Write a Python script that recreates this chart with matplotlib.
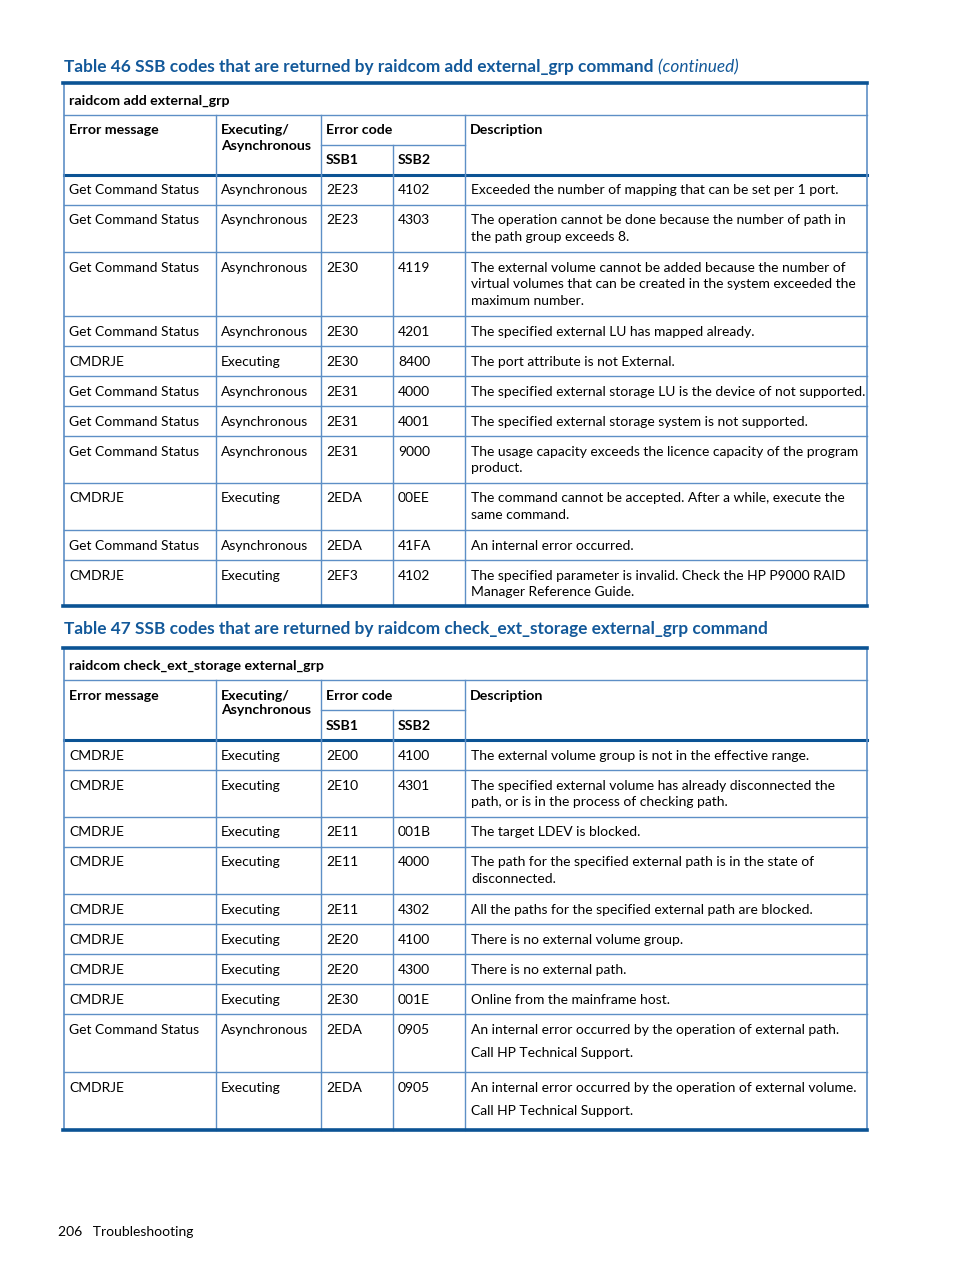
import matplotlib
matplotlib.use("Agg")
import matplotlib.pyplot as plt

plt.rcParams['font.family'] = ['Lato', 'DejaVu Sans']

# ---- data ----
t46_title = "Table 46 SSB codes that are returned by raidcom add external_grp command"
t46_cmd = "raidcom add external_grp"
t46_rows = [
    ["Get Command Status", "Asynchronous", "2E23", "4102",
     ["Exceeded the number of mapping that can be set per 1 port."]],
    ["Get Command Status", "Asynchronous", "2E23", "4303",
     ["The operation cannot be done because the number of path in",
      "the path group exceeds 8."]],
    ["Get Command Status", "Asynchronous", "2E30", "4119",
     ["The external volume cannot be added because the number of",
      "virtual volumes that can be created in the system exceeded the",
      "maximum number."]],
    ["Get Command Status", "Asynchronous", "2E30", "4201",
     ["The specified external LU has mapped already."]],
    ["CMDRJE", "Executing", "2E30", "8400",
     ["The port attribute is not External."]],
    ["Get Command Status", "Asynchronous", "2E31", "4000",
     ["The specified external storage LU is the device of not supported."]],
    ["Get Command Status", "Asynchronous", "2E31", "4001",
     ["The specified external storage system is not supported."]],
    ["Get Command Status", "Asynchronous", "2E31", "9000",
     ["The usage capacity exceeds the licence capacity of the program",
      "product."]],
    ["CMDRJE", "Executing", "2EDA", "00EE",
     ["The command cannot be accepted. After a while, execute the",
      "same command."]],
    ["Get Command Status", "Asynchronous", "2EDA", "41FA",
     ["An internal error occurred."]],
    ["CMDRJE", "Executing", "2EF3", "4102",
     ["The specified parameter is invalid. Check the HP P9000 RAID",
      "Manager Reference Guide."]],
]

t47_title = "Table 47 SSB codes that are returned by raidcom check_ext_storage external_grp command"
t47_cmd = "raidcom check_ext_storage external_grp"
t47_rows = [
    ["CMDRJE", "Executing", "2E00", "4100",
     ["The external volume group is not in the effective range."]],
    ["CMDRJE", "Executing", "2E10", "4301",
     ["The specified external volume has already disconnected the",
      "path, or is in the process of checking path."]],
    ["CMDRJE", "Executing", "2E11", "001B",
     ["The target LDEV is blocked."]],
    ["CMDRJE", "Executing", "2E11", "4000",
     ["The path for the specified external path is in the state of",
      "disconnected."]],
    ["CMDRJE", "Executing", "2E11", "4302",
     ["All the paths for the specified external path are blocked."]],
    ["CMDRJE", "Executing", "2E20", "4100",
     ["There is no external volume group."]],
    ["CMDRJE", "Executing", "2E20", "4300",
     ["There is no external path."]],
    ["CMDRJE", "Executing", "2E30", "001E",
     ["Online from the mainframe host."]],
    ["Get Command Status", "Asynchronous", "2EDA", "0905",
     ["An internal error occurred by the operation of external path.",
      "Call HP Technical Support."]],
    ["CMDRJE", "Executing", "2EDA", "0905",
     ["An internal error occurred by the operation of external volume.",
      "Call HP Technical Support."]],
]

headers = ["Error message", "Executing/\nAsynchronous", "Error code", "Description"]
sub_headers = ["SSB1", "SSB2"]
footer = "206   Troubleshooting"

# ---- layout ----
TITLE_C = "#13599a"
THICK_C = "#0b5394"
THIN_C = "#5d8fc6"
FS = 10.0
TFS = 12.4
cols = [64, 216, 321, 393, 465, 867]

fig = plt.figure(figsize=(9.54, 12.71), dpi=100)
ax = fig.add_axes([0, 0, 1, 1])
ax.set_xlim(0, 954)
ax.set_ylim(1271, 0)
ax.axis('off')


def draw_table(title, cmd, rows, title_y, top, row_h, line_gap, extra_note=False):
    t = ax.text(cols[0], title_y, title, fontsize=TFS, fontweight='bold',
                color=TITLE_C, va='center', ha='left')
    if extra_note:
        ax.annotate(" (continued)", xy=(1, 0.5), xycoords=t, va='center', ha='left',
                    fontsize=TFS, fontstyle='italic', color=TITLE_C)
    L, R = cols[0], cols[-1]
    # command row
    ax.text(L + 5, top + 17.5, cmd, fontsize=FS + 0.2, fontweight='bold', va='center')
    y1 = top + 32
    ax.plot([L, R], [y1, y1], color=THIN_C, lw=1)
    # header
    for i, h in enumerate(headers):
        x = cols[[0, 1, 2, 4][i]] + 5
        ax.text(x, y1 + 9.5, h, fontsize=FS + 0.2, fontweight='bold', va='top',
                linespacing=1.3)
    y2 = y1 + 30
    ax.plot([cols[2], cols[4]], [y2, y2], color=THIN_C, lw=1)
    for j, s in enumerate(sub_headers):
        ax.text(cols[2 + j] + 5, y2 + 15.5, s, fontsize=FS + 0.2, fontweight='bold', va='center')
    y3 = y2 + 30
    ax.plot([L, R], [y3, y3], color=THICK_C, lw=2.2)
    # vertical lines in header
    for x in cols[1:-1]:
        yy = y2 if x == cols[3] else y1
        ax.plot([x, x], [yy, y3], color=THIN_C, lw=1)
    # body
    y = y3
    for k, r in enumerate(rows):
        h = row_h[k]
        for c in range(4):
            ax.text(cols[c] + 5, y + 15.5, r[c], fontsize=FS, va='center')
        for m, line in enumerate(r[4]):
            ax.text(cols[4] + 6, y + 15.5 + m * line_gap[k], line, fontsize=FS, va='center')
        y = y + h
        if k < len(rows) - 1:
            ax.plot([L, R], [y, y], color=THIN_C, lw=1)
        for x in cols[1:-1]:
            ax.plot([x, x], [y - h, y], color=THIN_C, lw=1)
    bottom = y
    ax.plot([L, L], [top, bottom], color=THIN_C, lw=1.2)
    ax.plot([R, R], [top, bottom], color=THIN_C, lw=1.2)
    ax.plot([L - 0.5, R + 0.5], [top, top], color=THICK_C, lw=2.6)
    ax.plot([L - 0.5, R + 0.5], [bottom, bottom], color=THICK_C, lw=2.6)


draw_table(t46_title, t46_cmd, t46_rows, 67, 83,
           [30, 47, 64, 30, 30, 30, 30, 47, 47, 30, 46],
           [16.7] * 11, extra_note=True)
draw_table(t47_title, t47_cmd, t47_rows, 629, 648,
           [30, 47, 30, 47, 30, 30, 30, 30, 58, 58],
           [16.7] * 8 + [23.5, 23.5])

ax.text(58, 1232, footer, fontsize=FS, va='center')

fig.savefig("out.png", dpi=100)
